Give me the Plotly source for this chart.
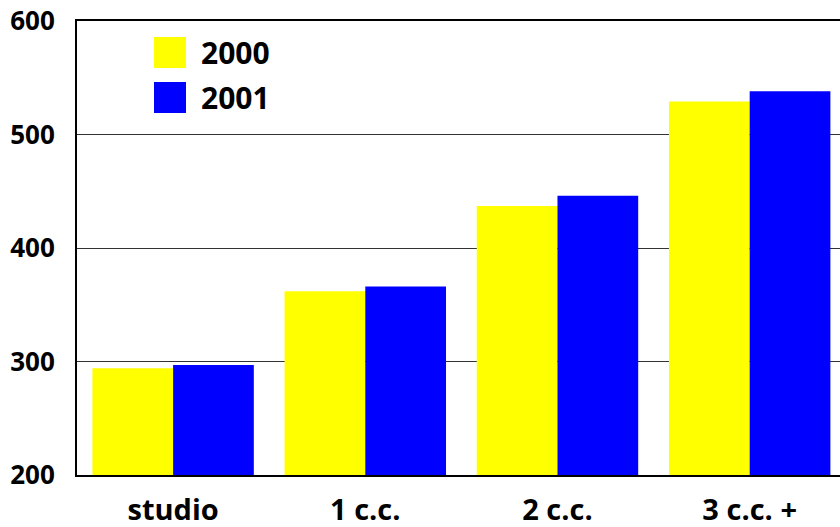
import plotly.graph_objects as go

# Average values by unit size, two years
categories = ["studio", "1 c.c.", "2 c.c.", "3 c.c. +"]
values_2000 = [294, 362, 437, 529]
values_2001 = [297, 366, 446, 538]
series_names = ["2000", "2001"]
series_colors = ["#ffff00", "#0000ff"]

FONT = "Open Sans"
W, H = 840, 527
ML, MR, MT, MB = 77, 0, 21, 52

fig = go.Figure()
for name, vals, col in zip(series_names, [values_2000, values_2001], series_colors):
    fig.add_trace(go.Bar(x=categories, y=vals, name=name, marker=dict(color=col, line=dict(width=0))))

# Hand-drawn legend: large colour squares with bold labels
pw = W - ML - MR
ph = H - MT - MB
def px_x(x):
    return (x - ML) / pw
def px_y(y):
    return (H - MB - y) / ph

legend_rows = [(37, 68), (82, 113)]
for (y0, y1), name, col in zip(legend_rows, series_names, series_colors):
    fig.add_shape(type="rect", xref="paper", yref="paper",
                  x0=px_x(154), x1=px_x(186), y0=px_y(y1), y1=px_y(y0),
                  fillcolor=col, line=dict(width=0))
    fig.add_annotation(xref="paper", yref="paper", x=px_x(199), y=px_y((y0 + y1) / 2),
                       text=name, showarrow=False, xanchor="left", yanchor="middle",
                       font=dict(family=FONT, size=30, color="black", weight="bold"))

fig.update_layout(
    width=W, height=H,
    margin=dict(l=ML, r=MR, t=MT, b=MB),
    paper_bgcolor="white", plot_bgcolor="white",
    barmode="group", bargap=0.16, bargroupgap=0,
    showlegend=False,
    font=dict(family=FONT, size=26, color="black", weight="bold"),
)
fig.update_xaxes(
    range=[-0.5, 3.47], showgrid=False,
    showline=True, linecolor="black", linewidth=2, mirror=True,
    ticks="", ticklabelstandoff=8,
    tickfont=dict(family=FONT, size=29, color="black", weight="bold"),
)
fig.update_yaxes(
    range=[200, 600], dtick=100, tick0=200,
    showgrid=True, gridcolor="#333333", gridwidth=1,
    showline=True, linecolor="black", linewidth=2,
    ticks="", ticklabelstandoff=15, zeroline=False,
    tickfont=dict(family=FONT, size=26, color="black", weight="bold"),
)

fig.write_html("out.html")
